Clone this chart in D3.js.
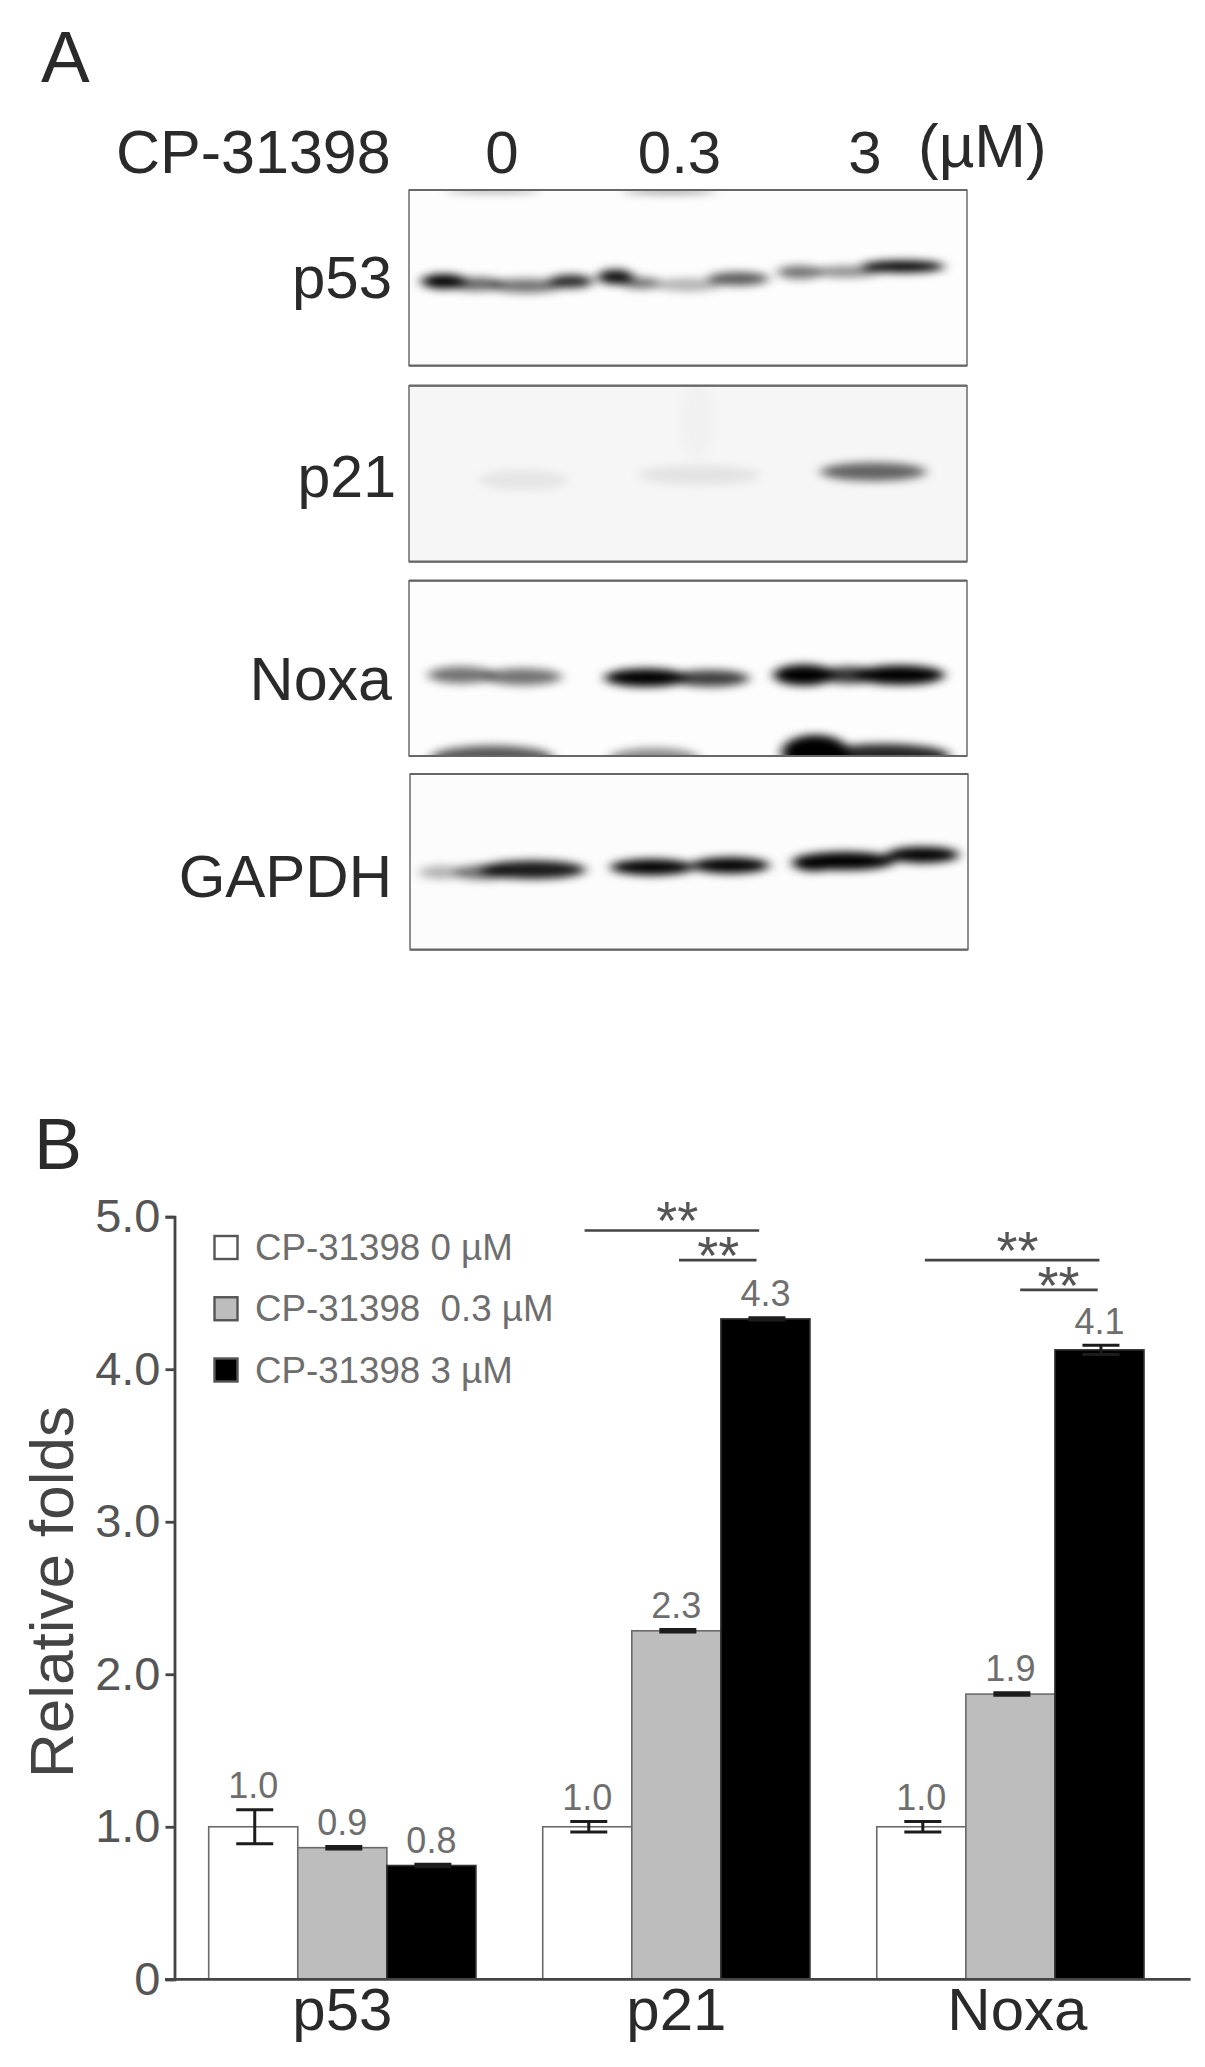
<!DOCTYPE html>
<html>
<head>
<meta charset="utf-8">
<script src="https://cdn.jsdelivr.net/npm/d3@7/dist/d3.min.js"></script>
<style>
html,body{margin:0;padding:0;background:#fff}
svg{display:block}
text{font-family:"Liberation Sans",Arial,sans-serif;white-space:pre}
</style>
</head>
<body>
<svg id="c" width="1205" height="2067"></svg>
<script>
// ---- Panel B data ----
const groups = ["p53", "p21", "Noxa"];
const doses = ["CP-31398 0 µM", "CP-31398  0.3 µM", "CP-31398 3 µM"];
const p53Values = [1.0, 0.863, 0.746];
const p21Values = [1.0, 2.285, 4.33];
const noxaValues = [1.0, 1.87, 4.127];
const p53Errors = [0.112, 0.008, 0.008];
const p21Errors = [0.035, 0.008, 0.008];
const noxaErrors = [0.035, 0.008, 0.03];
const p53Labels = ["1.0", "0.9", "0.8"];
const p21Labels = ["1.0", "2.3", "4.3"];
const noxaLabels = ["1.0", "1.9", "4.1"];
const yTicks = [0, 1, 2, 3, 4, 5];
// significance: group, from dose index, to dose index, level on y axis, star position in dose index
const sigBars = [
  ["p21", -0.03, 1.93, 4.91, 1.01],
  ["p21", 1.03, 1.90, 4.715, 1.47],
  ["Noxa", 0.04, 2.0, 4.715, 1.08],
  ["Noxa", 1.11, 1.98, 4.52, 1.54]
];

// ---- Panel A data: bands as [lane %, height %, half-width %, half-height %, density] ----
const blotNames = ["p53", "p21", "Noxa", "GAPDH"];
const p53Bands = [[6.2,52,4,4.2,1],[12,53.5,5,3.8,.6],[21,54.5,6.5,4,.55],[29,52,4,3.8,.85],[37,49.5,3.2,4.2,.95],[41.5,53,3.5,3.4,.55],[50,54,6,3.6,.3],[59,50.5,5.5,3.8,.65],[70,46.8,4,3.8,.55],[78.5,46.5,6,3.2,.45],[88.5,43.5,7.5,3.4,1],[15,.2,8.5,1,.55],[46.6,.6,8.5,1.2,.55]];
const p21Bands = [[83.2,48.9,9.5,5.2,.6],[20.4,53.6,8,5.5,.07],[52,50.8,11,5.5,.08],[51.7,20,3,22,.018]];
const noxaBands = [[9.4,53.8,6,4.8,.55],[20.4,54.8,7,4.8,.55],[42.5,55.3,7.5,5.2,1],[54,55.7,7,4.8,.75],[70.8,53.8,5.5,6,1],[88,53.8,8,5.6,1],[79,53.8,6,4.8,.8],[14.9,101,11,7,.65],[43.9,101,8,5.5,.45],[72.8,98,6,10,1],[85,100,12,7,.85]];
const gapdhBands = [[5.7,56,4,3.8,.3],[13,56,5,4.2,.55],[22,54.5,9.5,5.2,.9],[43.4,53,7.5,4.6,1],[57.4,52,7,4.6,1],[78,49.5,9,5.2,1],[91.9,46,6.5,4.6,1],[72.5,50.5,4,4.8,1]];
const laneLabels = ["0", "0.3", "3"];

const svg = d3.select("#c");
const INK = "#2a2a2a";

// ---- Panel A ----
svg.append("text").text("A").attr("x", 41).attr("y", 82).attr("font-size", 73).attr("fill", INK);
svg.append("text").text("CP-31398").attr("x", 116).attr("y", 173).attr("font-size", 61).attr("fill", INK);
const lane = d3.scalePoint().domain(laneLabels).range([502, 865]);
svg.selectAll("text.lane").data(laneLabels).join("text").attr("class", "lane").text(d => d)
  .attr("x", (d, i) => lane(d) - (i === 1 ? 4 : 0)).attr("y", 173)
  .attr("text-anchor", "middle").attr("font-size", 60).attr("fill", INK);
svg.append("text").text("(µM)").attr("x", 918).attr("y", 167).attr("font-size", 62).attr("fill", INK);

const defs = svg.append("defs");
defs.append("filter").attr("id", "blur").attr("x", "-30%").attr("y", "-60%").attr("width", "160%").attr("height", "220%")
  .append("feGaussianBlur").attr("stdDeviation", "6 4.5");

const panelTops = d3.scaleOrdinal().domain(blotNames).range([190, 385.7, 580.7, 774]);
const panelBots = d3.scaleOrdinal().domain(blotNames).range([365.7, 561.7, 756, 949.7]);
const panelLeft = d3.scaleOrdinal().domain(blotNames).range([409, 409, 409, 410]);
const panelBg = d3.scaleOrdinal().domain(blotNames).range(["#fdfdfd", "#f6f6f6", "#fdfdfd", "#fcfcfc"]);
const labelRight = d3.scaleOrdinal().domain(blotNames).range([392, 396, 392, 392]);
const labelBase = d3.scaleOrdinal().domain(blotNames).range([298, 497, 700, 897]);
const labelSize = d3.scaleOrdinal().domain(blotNames).range([60, 59, 61, 60]);
const bandSets = [p53Bands, p21Bands, noxaBands, gapdhBands];

blotNames.forEach((name, k) => {
  const left = panelLeft(name), top = panelTops(name), bot = panelBots(name);
  const bx = d3.scaleLinear().domain([0, 100]).range([left, left + 558]);
  const by = d3.scaleLinear().domain([0, 100]).range([top, bot]);
  const pw = bx(100) - bx(0), ph = by(100) - by(0);
  defs.append("clipPath").attr("id", "clip" + k).append("rect")
    .attr("x", left).attr("y", top).attr("width", pw).attr("height", ph);
  const g = svg.append("g");
  g.append("rect").attr("x", left).attr("y", top).attr("width", pw).attr("height", ph).attr("fill", panelBg(name));
  g.append("g").attr("clip-path", `url(#clip${k})`).append("g").attr("filter", "url(#blur)")
    .selectAll("ellipse").data(bandSets[k]).join("ellipse")
    .attr("cx", d => bx(d[0])).attr("cy", d => by(d[1]))
    .attr("rx", d => bx(d[2]) - bx(0)).attr("ry", d => by(d[3]) - by(0))
    .attr("fill", "#000").attr("fill-opacity", d => d[4]);
  g.append("rect").attr("x", left).attr("y", top).attr("width", pw).attr("height", ph)
    .attr("fill", "none").attr("stroke", "#555").attr("stroke-width", 1.3);
  g.append("line").attr("x1", left).attr("x2", left + pw).attr("y1", top).attr("y2", top).attr("stroke", "#666").attr("stroke-width", 2.2);
  g.append("line").attr("x1", left).attr("x2", left + pw).attr("y1", bot).attr("y2", bot).attr("stroke", "#666").attr("stroke-width", 2.2);
  svg.append("text").text(name).attr("x", labelRight(name)).attr("y", labelBase(name))
    .attr("text-anchor", "end").attr("font-size", labelSize(name)).attr("fill", INK);
});

// ---- Panel B ----
svg.append("text").text("B").attr("x", 34).attr("y", 1169).attr("font-size", 72).attr("fill", INK);

const y = d3.scaleLinear().domain([0, 5]).range([1979.3, 1216.7]);
const x0 = d3.scaleBand().domain(groups).range([208.7, 1144]).paddingInner(0.2).paddingOuter(0);
const x1 = d3.scaleBand().domain(d3.range(3)).range([0, x0.bandwidth()]);
const fillOf = d3.scaleOrdinal().domain(d3.range(3)).range(["#ffffff", "#bdbdbd", "#000000"]);
const strokeOf = d3.scaleOrdinal().domain(d3.range(3)).range(["#6a6a6a", "#6a6a6a", "#333333"]);

const rows = [
  ["p53", p53Values, p53Errors, p53Labels],
  ["p21", p21Values, p21Errors, p21Labels],
  ["Noxa", noxaValues, noxaErrors, noxaLabels]
].flatMap(([g, vals, errs, labs]) => vals.map((v, i) => ({ g, i, v, e: errs[i], l: labs[i] })));

const bars = svg.append("g");
bars.selectAll("rect").data(rows).join("rect")
  .attr("x", d => x0(d.g) + x1(d.i)).attr("width", x1.bandwidth())
  .attr("y", d => y(d.v)).attr("height", d => y(0) - y(d.v))
  .attr("fill", d => fillOf(d.i)).attr("stroke", d => strokeOf(d.i)).attr("stroke-width", 1.6);

const cx = d => x0(d.g) + x1(d.i) + x1.bandwidth() / 2;
const capW = 18.5;
const err = svg.append("g").attr("stroke", "#1c1c1c").attr("stroke-width", 3).attr("fill", "none");
err.selectAll("path").data(rows).join("path")
  .attr("d", d => {
    const c = cx(d) + 1.5, a = y(d.v + d.e), b = y(d.v - d.e);
    return `M${c - capW},${a}H${c + capW}M${c},${a}V${b}M${c - capW},${b}H${c + capW}`;
  });

svg.append("g").selectAll("text").data(rows).join("text")
  .text(d => d.l)
  .attr("x", cx).attr("y", d => y(d.v + d.e) - 11.5)
  .attr("text-anchor", "middle").attr("font-size", 36).attr("fill", "#6e6e6e");

const yAxis = svg.append("g").attr("transform", "translate(174.5,0)")
  .call(d3.axisLeft(y).tickValues(yTicks).tickSize(9).tickPadding(5).tickFormat(d => d === 0 ? "0" : d3.format(".1f")(d)));
yAxis.selectAll("path,line").attr("stroke", "#444").attr("stroke-width", 2.8);
yAxis.selectAll("text").attr("font-size", 47).attr("fill", "#555").attr("font-family", '"Liberation Sans",Arial,sans-serif');

const xAxis = svg.append("g").attr("transform", `translate(0,${y(0)})`)
  .call(d3.axisBottom(x0).tickSize(0).tickPadding(0));
xAxis.select(".domain").remove();
xAxis.selectAll("text").attr("font-size", 60).attr("fill", INK).attr("font-family", '"Liberation Sans",Arial,sans-serif')
  .attr("dy", 0).attr("y", 50.5).attr("dx", d => d === "Noxa" ? 7 : 0);
svg.append("line").attr("x1", 165).attr("x2", 1190.6).attr("y1", y(0)).attr("y2", y(0)).attr("stroke", "#444").attr("stroke-width", 2.8);

// significance bars
const sigX = (g, idx) => x0(g) + x1.bandwidth() / 2 + idx * x1.step();
const sig = svg.append("g");
sig.selectAll("line").data(sigBars).join("line")
  .attr("x1", d => sigX(d[0], d[1])).attr("x2", d => sigX(d[0], d[2]))
  .attr("y1", d => y(d[3])).attr("y2", d => y(d[3]))
  .attr("stroke", "#444").attr("stroke-width", 2.6);
sig.selectAll("text").data(sigBars).join("text").text("**")
  .attr("x", d => sigX(d[0], d[4])).attr("y", d => y(d[3]) + (d[2] - d[1] > 1.5 ? 9 : 14))
  .attr("text-anchor", "middle").attr("font-size", 54).attr("fill", "#555");

// legend
const legY = d3.scalePoint().domain(doses).range([1247.5, 1370]);
const leg = svg.append("g");
leg.selectAll("rect").data(doses).join("rect")
  .attr("x", 214.5).attr("width", 23).attr("y", d => legY(d) - 11.5).attr("height", 23)
  .attr("fill", (d, i) => fillOf(i)).attr("stroke", "#555").attr("stroke-width", 2.4);
leg.selectAll("text").data(doses).join("text").text(d => d)
  .attr("x", 255).attr("y", d => legY(d) + 12.5).attr("font-size", 36.7).attr("fill", "#6e6e6e");

// y title
svg.append("text").text("Relative folds")
  .attr("transform", "translate(73,1592) rotate(-90)")
  .attr("text-anchor", "middle").attr("font-size", 62).attr("fill", "#444");
</script>
</body>
</html>
